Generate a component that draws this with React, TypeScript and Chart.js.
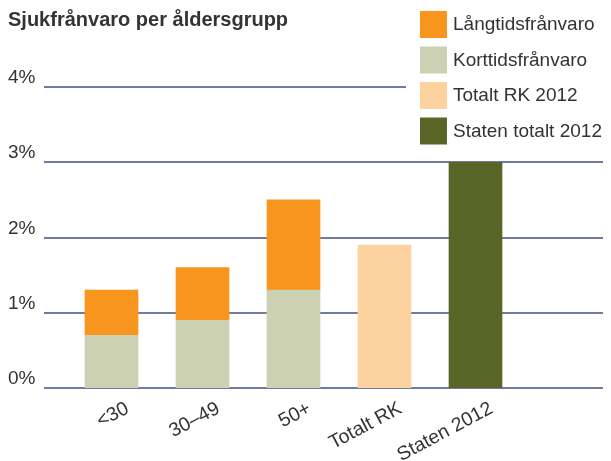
import React, { useEffect, useRef } from 'react';
import { Chart, registerables } from 'chart.js';

Chart.register(...registerables);

const categories = ['<30', '30–49', '50+', 'Totalt RK', 'Staten 2012'];
const kortValues = [0.7, 0.9, 1.3, null, null];
const langValues = [0.6, 0.7, 1.2, null, null];
const totaltRKValues = [null, null, null, 1.9, null];
const statenValues = [null, null, null, null, 3.0];
const yTickValues = [0, 1, 2, 3, 4];
const legendOrder = [1, 0, 2, 3];

const FONT = "'Liberation Sans', Arial, sans-serif";
const TEXT = '#333333';

const gridPlugin = {
  id: 'customGrid',
  beforeDatasetsDraw(chart: any) {
    const y = chart.scales.y;
    const ctx = chart.ctx;
    ctx.save();
    ctx.strokeStyle = '#737aa2';
    ctx.lineWidth = 2;
    y.ticks.forEach((t: any) => {
      const py = Math.round(y.getPixelForValue(t.value));
      ctx.beginPath();
      ctx.moveTo(36, py);
      ctx.lineTo(597, py);
      ctx.stroke();
    });
    ctx.restore();
  },
};

const legendPlugin = {
  id: 'customLegend',
  afterDraw(chart: any) {
    const ctx = chart.ctx;
    ctx.save();
    ctx.fillStyle = '#ffffff';
    ctx.fillRect(398, 0, 205, 142);
    ctx.font = `19px ${FONT}`;
    ctx.textBaseline = 'middle';
    ctx.textAlign = 'left';
    legendOrder.forEach((di, i) => {
      const ds = chart.data.datasets[di];
      const top = 3 + i * 35.5;
      ctx.fillStyle = ds.backgroundColor;
      ctx.fillRect(412, top, 27, 27);
      ctx.fillStyle = TEXT;
      ctx.fillText(ds.label, 445, top + 14);
    });
    ctx.restore();
  },
};

export default function App() {
  const ref = useRef<HTMLCanvasElement>(null);
  useEffect(() => {
    const chart = new Chart(ref.current as HTMLCanvasElement, {
      type: 'bar',
      data: {
        labels: categories,
        datasets: [
          { label: 'Korttidsfrånvaro', data: kortValues, backgroundColor: '#cdd1b4', barThickness: 53 },
          { label: 'Långtidsfrånvaro', data: langValues, backgroundColor: '#f7951f', barThickness: 53 },
          { label: 'Totalt RK 2012', data: totaltRKValues, backgroundColor: '#fcd29f', barThickness: 53 },
          { label: 'Staten totalt 2012', data: statenValues, backgroundColor: '#596526', barThickness: 53 },
        ] as any,
      },
      options: {
        animation: false,
        responsive: false,
        layout: { padding: { left: 0, right: 90, top: 0, bottom: 0 } },
        plugins: {
          legend: { display: false },
          tooltip: { enabled: false },
          title: {
            display: true,
            text: 'Sjukfrånvaro per åldersgrupp',
            align: 'start',
            color: TEXT,
            font: { family: FONT, size: 20, weight: 'bold', lineHeight: 1.2 },
            padding: { top: 0, bottom: 55 },
          },
        },
        scales: {
          x: {
            stacked: true,
            grid: { display: false },
            border: { display: false },
            ticks: {
              color: TEXT,
              font: { family: FONT, size: 19.5 },
              maxRotation: 28,
              minRotation: 28,
              autoSkip: false,
              padding: 1,
              labelOffset: 16,
            },
            afterFit: (scale: any) => { scale.height = 73; },
          },
          y: {
            stacked: true,
            min: 0,
            max: 4,
            grid: { display: false },
            border: { display: false },
            afterBuildTicks: (scale: any) => { scale.ticks = yTickValues.map((v) => ({ value: v })); },
            ticks: {
              color: TEXT,
              font: { family: FONT, size: 19 },
              crossAlign: 'far',
              labelOffset: -9,
              callback: (v: any) => `${v}%`,
            },
            afterFit: (scale: any) => { scale.width = 58; },
          },
        },
      },
      plugins: [gridPlugin, legendPlugin],
    } as any);
    return () => chart.destroy();
  }, []);
  return (
    <div style={{ width: 603, height: 453 }}>
      <canvas ref={ref} width={603} height={453} style={{ display: 'block' }} />
    </div>
  );
}
